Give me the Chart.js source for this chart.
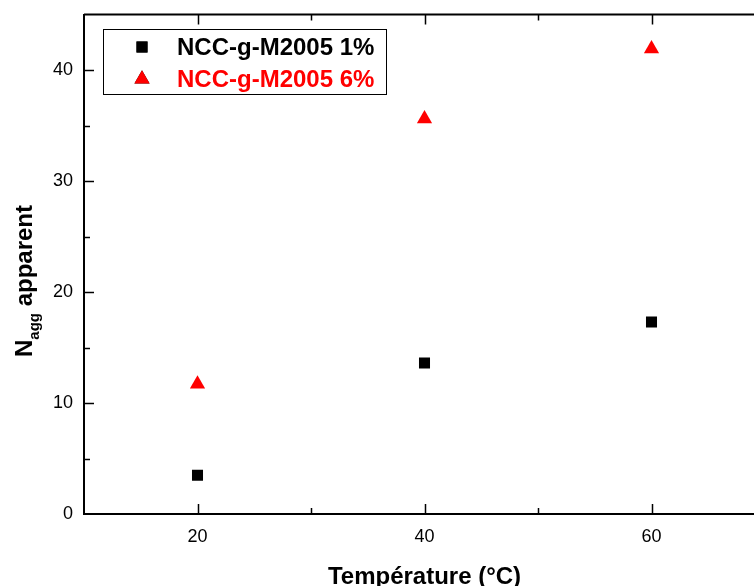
<!DOCTYPE html>
<html lang="fr">
<head>
    <meta charset="UTF-8">
    <title>Nagg apparent vs température</title>
    <script src="https://cdn.jsdelivr.net/npm/chart.js"></script>
    <style>
        html, body { margin: 0; padding: 0; background: #fff; overflow: hidden; }
        .wrap { width: 754px; height: 586px; overflow: hidden; }
        canvas { display: block; }
    </style>
</head>
<body>
    <div class="wrap">
        <canvas id="naggChart" width="780" height="586"></canvas>
    </div>

    <script>
        // data
        const temperatures = [20, 40, 60];
        const nagg1 = [3.5, 13.6, 17.3];     // NCC-g-M2005 1%
        const nagg6 = [11.7, 35.6, 41.9];    // NCC-g-M2005 6%
        const seriesLabels = ["NCC-g-M2005 1%", "NCC-g-M2005 6%"];
        const xTickLabels = [20, 40, 60];
        const yTickLabels = [0, 10, 20, 30, 40];

        const FONT = "'Liberation Sans', Arial, sans-serif";

        const toPoints = (xs, ys) => xs.map((x, i) => ({ x: x, y: ys[i] }));

        // inward ticks, mirrored top axis, axis titles and framed legend
        const frame = {
            id: "frame",
            afterDraw(chart) {
                const ctx = chart.ctx;
                const a = chart.chartArea;
                const xs = chart.scales.x;
                const ys = chart.scales.y;
                ctx.save();
                ctx.strokeStyle = "#000";
                ctx.lineWidth = 2;

                // top axis line
                ctx.beginPath();
                ctx.moveTo(a.left, a.top);
                ctx.lineTo(a.right, a.top);
                ctx.stroke();

                ctx.lineWidth = 1.5;
                xs.ticks.forEach(t => {
                    if (t.value <= xs.min || t.value >= xs.max) return;
                    const px = Math.round(xs.getPixelForValue(t.value)) + 0.5;
                    const len = xTickLabels.includes(t.value) ? 10 : 6;
                    ctx.beginPath();
                    ctx.moveTo(px, a.bottom);
                    ctx.lineTo(px, a.bottom - len);
                    ctx.moveTo(px, a.top);
                    ctx.lineTo(px, a.top + len);
                    ctx.stroke();
                });
                ys.ticks.forEach(t => {
                    if (t.value <= ys.min || t.value >= ys.max) return;
                    const py = Math.round(ys.getPixelForValue(t.value)) + 0.5;
                    const len = yTickLabels.includes(t.value) ? 10 : 6;
                    ctx.beginPath();
                    ctx.moveTo(a.left, py);
                    ctx.lineTo(a.left + len, py);
                    ctx.stroke();
                });

                // x title, centred on the full axis
                ctx.fillStyle = "#000";
                ctx.font = "bold 24px " + FONT;
                ctx.textAlign = "center";
                ctx.textBaseline = "alphabetic";
                ctx.fillText("Température (°C)", (a.left + a.right) / 2, 584);

                // y title with subscript
                ctx.save();
                ctx.translate(32, 281);
                ctx.rotate(-Math.PI / 2);
                const mainFont = "bold 24px " + FONT;
                const subFont = "bold 15px " + FONT;
                ctx.font = mainFont;
                const wN = ctx.measureText("N").width;
                const wRest = ctx.measureText(" apparent").width;
                ctx.font = subFont;
                const wSub = ctx.measureText("agg").width;
                let x0 = -(wN + wSub + wRest) / 2;
                ctx.textAlign = "left";
                ctx.font = mainFont;
                ctx.fillText("N", x0, 0);
                ctx.font = subFont;
                ctx.fillText("agg", x0 + wN, 7);
                ctx.font = mainFont;
                ctx.fillText(" apparent", x0 + wN + wSub, 0);
                ctx.restore();

                // legend
                const lx = 103.5, ly = 29.5, lw = 283, lh = 65;
                ctx.lineWidth = 1;
                ctx.strokeStyle = "#000";
                ctx.strokeRect(lx, ly, lw, lh);
                ctx.font = "bold 24px " + FONT;
                ctx.textAlign = "left";
                ctx.textBaseline = "middle";
                chart.data.datasets.forEach((ds, i) => {
                    const cy = 47 + i * 32;
                    Chart.helpers.drawPoint(ctx, {
                        pointStyle: ds.pointStyle,
                        radius: ds.pointRadius,
                        rotation: 0,
                        borderWidth: 0
                    }, 142, cy);
                    ctx.fillStyle = ds.backgroundColor;
                    ctx.fill();
                    ctx.fillText(ds.label, 177, cy + 1);
                });
                ctx.restore();
            }
        };

        new Chart(document.getElementById("naggChart").getContext("2d"), {
            type: "scatter",
            data: {
                datasets: [
                    {
                        label: seriesLabels[0],
                        data: toPoints(temperatures, nagg1),
                        pointStyle: "rect",
                        pointRadius: 7.8,
                        backgroundColor: "#000000",
                        borderColor: "#000000",
                        borderWidth: 0
                    },
                    {
                        label: seriesLabels[1],
                        data: toPoints(temperatures, nagg6),
                        pointStyle: "triangle",
                        pointRadius: 8.8,
                        backgroundColor: "#ff0000",
                        borderColor: "#ff0000",
                        borderWidth: 0
                    }
                ]
            },
            options: {
                responsive: false,
                animation: false,
                devicePixelRatio: 1,
                layout: { padding: { top: 14.5, right: 15, left: 0, bottom: 0 } },
                plugins: {
                    legend: { display: false },
                    tooltip: { enabled: false }
                },
                elements: { point: { hoverRadius: 8 } },
                scales: {
                    x: {
                        type: "linear",
                        min: 10,
                        max: 70,
                        grid: { display: false, drawTicks: false },
                        border: { display: true, color: "#000", width: 2 },
                        ticks: {
                            stepSize: 10,
                            padding: 12,
                            color: "#000",
                            font: { family: FONT, size: 18 },
                            autoSkip: false,
                            maxRotation: 0,
                            callback: v => xTickLabels.includes(v) ? String(v) : ""
                        },
                        afterFit: s => { s.height = 72; s.paddingLeft = 0; s.paddingRight = 0; }
                    },
                    y: {
                        type: "linear",
                        min: 0,
                        max: 45,
                        grid: { display: false, drawTicks: false },
                        border: { display: true, color: "#000", width: 2 },
                        ticks: {
                            stepSize: 5,
                            padding: 11,
                            color: "#000",
                            font: { family: FONT, size: 18 },
                            autoSkip: false,
                            callback: v => yTickLabels.includes(v) ? String(v) : ""
                        },
                        afterFit: s => { s.width = 84; s.paddingTop = 0; s.paddingBottom = 0; }
                    }
                }
            },
            plugins: [frame]
        });
    </script>
</body>
</html>
